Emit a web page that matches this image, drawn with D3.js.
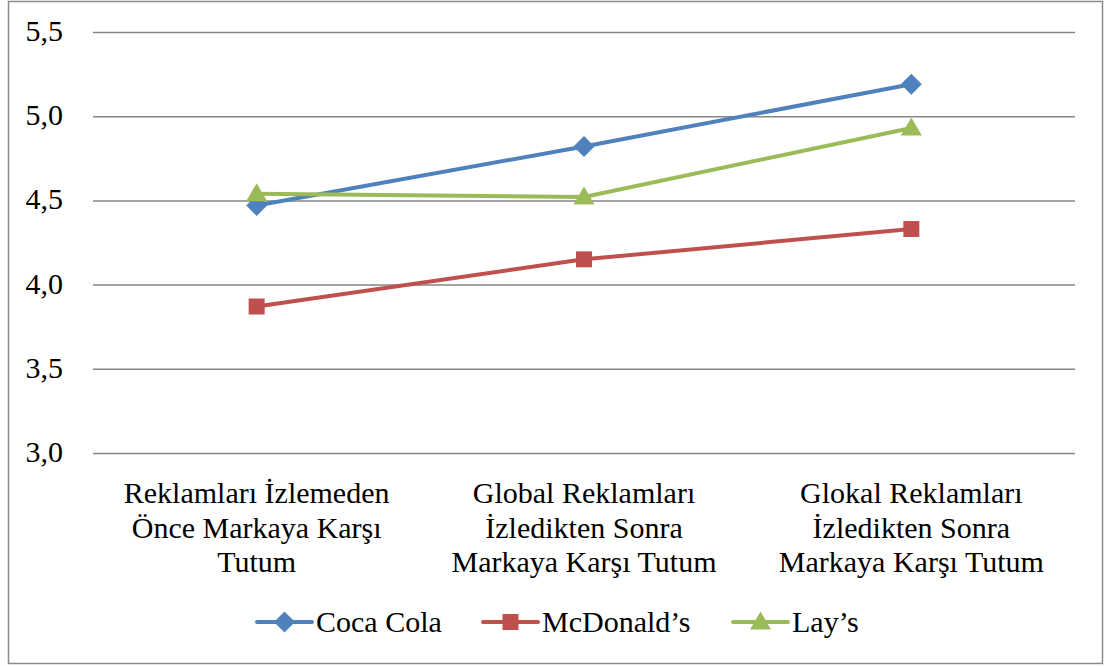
<!DOCTYPE html>
<html>
<head>
<meta charset="utf-8">
<script src="https://cdn.jsdelivr.net/npm/d3@7"></script>
<style>
  body { margin: 0; background: #fff; }
</style>
</head>
<body>
<svg id="chart" width="1105" height="666" font-family="Times New Roman"></svg>
<script>
const categories = [
  ["Reklamları İzlemeden", "Önce Markaya Karşı", "Tutum"],
  ["Global Reklamları", "İzledikten Sonra", "Markaya Karşı Tutum"],
  ["Glokal Reklamları", "İzledikten Sonra", "Markaya Karşı Tutum"]
];
const seriesNames = ["Coca Cola", "McDonald’s", "Lay’s"];
const cocaCola = [4.47, 4.82, 5.19];
const mcdonalds = [3.87, 4.15, 4.33];
const lays = [4.54, 4.52, 4.93];
const yTicks = [3.0, 3.5, 4.0, 4.5, 5.0, 5.5];
const colors = ["#4F81BD", "#C0504D", "#9BBB59"];
const shapes = ["diamond", "square", "triangle"];

const series = seriesNames.map((name, i) => ({
  name, color: colors[i], shape: shapes[i],
  values: [cocaCola, mcdonalds, lays][i]
}));

const FONT = "Times New Roman";
const FS = 30;

// marker shapes (Excel style: square-ish diamond, wide triangle)
function markerPath(shape) {
  const p = d3.path();
  if (shape === "diamond") {
    const r = 10.5;
    p.moveTo(0, -r); p.lineTo(r, 0); p.lineTo(0, r); p.lineTo(-r, 0); p.closePath();
  } else if (shape === "square") {
    const r = 8;
    p.rect(-r, -r, 2 * r, 2 * r);
  } else {
    p.moveTo(0, -10.5); p.lineTo(10.5, 7.5); p.lineTo(-10.5, 7.5); p.closePath();
  }
  return p.toString();
}

const svg = d3.select("#chart");
const margin = {top: 32, right: 30, bottom: 213, left: 93};
const W = 1105, H = 666;

// outer frame
svg.append("rect")
  .attr("x", 8.5).attr("y", 1.5)
  .attr("width", 1094).attr("height", 662)
  .attr("fill", "#fff").attr("stroke", "#8c8c8c").attr("stroke-width", 1.5);

const x = d3.scaleBand()
  .domain(d3.range(categories.length))
  .range([margin.left, W - margin.right]);

const y = d3.scaleLinear()
  .domain([3.0, 5.5])
  .range([H - margin.bottom, margin.top]);

// gridlines + y labels
const yAxis = svg.append("g")
  .attr("transform", `translate(${margin.left},0)`)
  .call(d3.axisLeft(y).tickValues(yTicks)
    .tickSize(-(W - margin.left - margin.right))
    .tickPadding(30)
    .tickFormat(d => d3.format(".1f")(d).replace(".", ",")));
yAxis.attr("font-family", FONT).attr("font-size", FS);
yAxis.select(".domain").remove();
yAxis.selectAll(".tick line").attr("stroke", "#868686").attr("stroke-width", 1.5);
yAxis.selectAll(".tick text")
  .attr("font-family", FONT)
  .attr("font-size", FS)
  .attr("dy", "0.28em")
  .attr("fill", "#000");

// x labels
const xLab = svg.append("g");
categories.forEach((lines, i) => {
  const cx = x(i) + x.bandwidth() / 2;
  const t = xLab.append("text")
    .attr("x", cx)
    .attr("y", 503)
    .attr("text-anchor", "middle")
    .attr("font-family", FONT)
    .attr("font-size", FS);
  lines.forEach((ln, k) => {
    t.append("tspan")
      .attr("x", cx)
      .attr("y", 503 + k * 34.5)
      .text(ln);
  });
});

const line = d3.line()
  .x((d, i) => x(i) + x.bandwidth() / 2)
  .y(d => y(d));

series.forEach(s => {
  svg.append("path")
    .datum(s.values)
    .attr("d", line)
    .attr("fill", "none")
    .attr("stroke", s.color)
    .attr("stroke-width", 4)
    .attr("stroke-linejoin", "round");
  svg.append("g").selectAll("path")
    .data(s.values)
    .join("path")
    .attr("transform", (d, i) => `translate(${x(i) + x.bandwidth() / 2},${y(d)})`)
    .attr("d", markerPath(s.shape))
    .attr("fill", s.color);
});

// legend
const legendX = [257, 483, 733];
const legendY = 622;
series.forEach((s, i) => {
  const g = svg.append("g").attr("transform", `translate(${legendX[i]},${legendY})`);
  g.append("line")
    .attr("x1", 0).attr("x2", 55)
    .attr("stroke", s.color).attr("stroke-width", 4).attr("stroke-linecap", "round");
  g.append("path")
    .attr("transform", "translate(27.5,0)")
    .attr("d", markerPath(s.shape))
    .attr("fill", s.color);
  g.append("text")
    .attr("x", 59).attr("y", 10)
    .attr("font-family", FONT)
    .attr("font-size", FS)
    .text(s.name);
});
</script>
</body>
</html>
